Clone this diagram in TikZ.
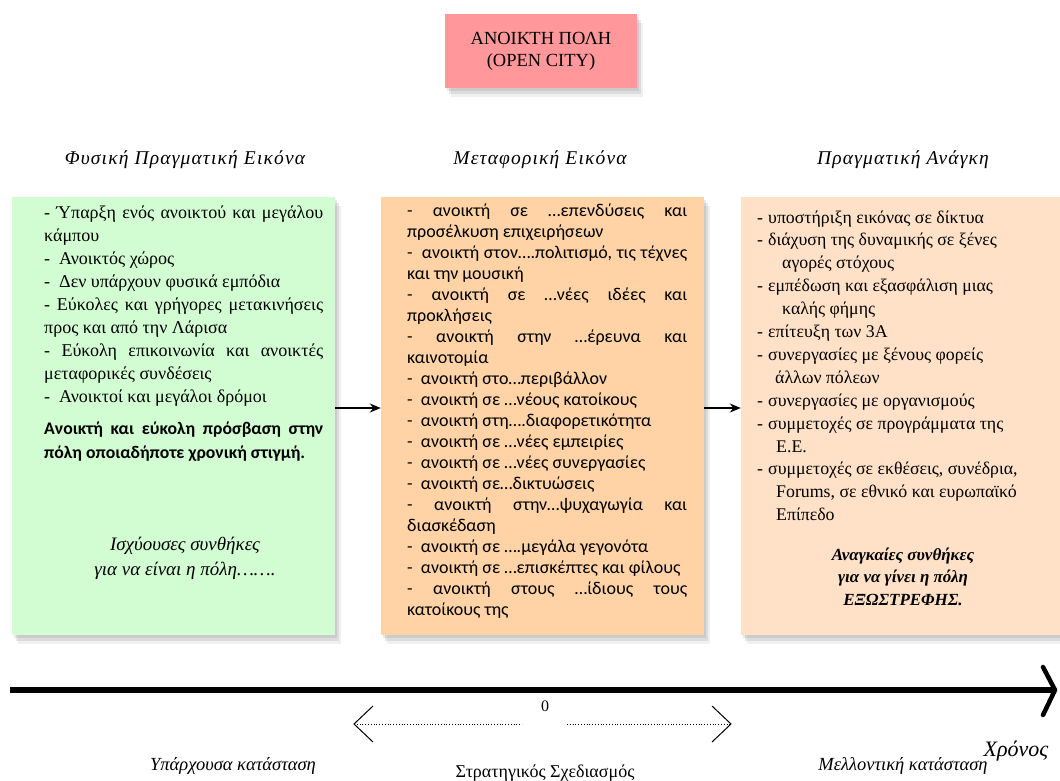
\documentclass[tikz,border=0pt]{standalone}
\usepackage{fontspec}
\setmainfont{Liberation Serif}
\newfontfamily\grsans{Carlito}
\usetikzlibrary{shadows,arrows.meta,calc}
\definecolor{boxgreen}{HTML}{D2FDD2}
\definecolor{boxorange}{HTML}{FFD3A5}
\definecolor{boxpeach}{HTML}{FFE1C8}
\definecolor{boxpink}{HTML}{FF979B}
\newcommand\dl[1]{\makebox[11pt][l]{-}#1\par}
\newcommand\cl[2]{\hspace*{#1pt}#2\par}
\begin{document}
\begin{tikzpicture}[x=1pt,y=-1pt,
  softshadow/.style={
    drop shadow={shadow xshift=2pt, shadow yshift=-3pt, opacity=0.18},
    drop shadow={shadow xshift=4pt, shadow yshift=-6pt, opacity=0.18},
    drop shadow={shadow xshift=6pt, shadow yshift=-9pt, opacity=0.12}},
  panel/.style={draw=none, inner sep=0pt, minimum height=438pt, softshadow},
  txt/.style={anchor=base, inner sep=0pt},
  head/.style={anchor=base, inner sep=0pt,
    font=\fontsize{19.5}{22}\selectfont\itshape\addfontfeature{LetterSpace=6}},
  link/.style={line width=1.8pt, -{Stealth[length=11pt,width=9pt]}},
  chev/.style={line width=1pt, line join=miter}
]
\useasboundingbox (0,0) rectangle (1060,780);
\hyphenpenalty=10000 \tolerance=10000

% title
\node[fill=boxpink, minimum width=192pt, minimum height=74pt, inner sep=0pt,
  softshadow, align=center, font=\fontsize{18.5}{22}\selectfont] (title) at (541,51)
  {ΑΝΟΙΚΤΗ ΠΟΛΗ\\(OPEN CITY)};

% headers
\node[head] (h1) at (185,164) {Φυσική Πραγματική Εικόνα};
\node[head] (h2) at (540,164) {Μεταφορική Εικόνα};
\node[head] (h3) at (903,164) {Πραγματική Ανάγκη};

% panels
\node[panel, fill=boxgreen, minimum width=323pt] (g) at (173.5,416) {};
\node[panel, fill=boxorange, minimum width=323pt] (m) at (542.5,416) {};
\node[panel, fill=boxpeach, minimum width=329pt] (r) at (905.5,416) {};

% left text
\node[anchor=base west, inner sep=0pt] (gt) at (44,218) {\parbox[t]{279pt}{%
\fontsize{18}{23.1}\selectfont\setlength\parindent{0pt}\setlength\parfillskip{0pt plus 1fil}%
- Ύπαρξη ενός ανοικτού και μεγάλου\linebreak κάμπου\par
-\ \ Ανοικτός χώρος\par
-\ \ Δεν υπάρχουν φυσικά εμπόδια\par
- Εύκολες και γρήγορες μετακινήσεις\linebreak προς και από την Λάρισα\par
- Εύκολη επικοινωνία και ανοικτές\linebreak μεταφορικές συνδέσεις\par
-\ \ Ανοικτοί και μεγάλοι δρόμοι\par
\vspace{9pt}
{\grsans\bfseries\fontsize{17.7}{23.1}\selectfont Ανοικτή και εύκολη πρόσβαση στην\linebreak πόλη οποιαδήποτε χρονική στιγμή.\par}}};
\node[txt] (gi) at (185,550) {\parbox[t]{270pt}{\centering\fontsize{19}{25}\selectfont\itshape
Ισχύουσες συνθήκες\\για να είναι η πόλη…….}};

% middle text
\node[anchor=base west, inner sep=0pt] (mt) at (407,216) {\parbox[t]{280pt}{%
\grsans\fontsize{18}{21.05}\selectfont\setlength\parindent{0pt}\setlength\parfillskip{0pt plus 1fil}%
- ανοικτή σε …επενδύσεις και\linebreak προσέλκυση επιχειρήσεων\par
-\ \ ανοικτή στον….πολιτισμό, τις τέχνες\linebreak και την μουσική\par
- ανοικτή σε …νέες ιδέες και\linebreak προκλήσεις\par
- ανοικτή στην …έρευνα και\linebreak καινοτομία\par
-\ \ ανοικτή στο…περιβάλλον\par
-\ \ ανοικτή σε …νέους κατοίκους\par
-\ \ ανοικτή στη….διαφορετικότητα\par
-\ \ ανοικτή σε …νέες εμπειρίες\par
-\ \ ανοικτή σε …νέες συνεργασίες\par
-\ \ ανοικτή σε…δικτυώσεις\par
- ανοικτή στην…ψυχαγωγία και\linebreak διασκέδαση\par
-\ \ ανοικτή σε ….μεγάλα γεγονότα\par
-\ \ ανοικτή σε …επισκέπτες και φίλους\par
- ανοικτή στους …ίδιους τους\linebreak κατοίκους της\par}};

% right text
\node[anchor=base west, inner sep=0pt] (rt) at (757,223) {\parbox[t]{300pt}{%
\fontsize{17.8}{22.9}\selectfont\setlength\parindent{0pt}\raggedright
\dl{υποστήριξη εικόνας σε δίκτυα}
\dl{διάχυση της δυναμικής σε ξένες}
\cl{25}{αγορές στόχους}
\dl{εμπέδωση και εξασφάλιση μιας}
\cl{25}{καλής φήμης}
\dl{επίτευξη των 3Α}
\dl{συνεργασίες με ξένους φορείς}
\cl{18}{άλλων πόλεων}
\dl{συνεργασίες με οργανισμούς}
\dl{συμμετοχές σε προγράμματα της}
\cl{19}{Ε.Ε.}
\dl{συμμετοχές σε εκθέσεις, συνέδρια,}
\cl{19}{Forums, σε εθνικό και ευρωπαϊκό}
\cl{19}{Επίπεδο}}};
\node[txt] (ri) at (903,560) {\parbox[t]{260pt}{\centering\fontsize{17}{22.5}\selectfont\bfseries\itshape
Αναγκαίες συνθήκες\\για να γίνει η πόλη\\ΕΞΩΣΤΡΕΦΗΣ.}};

% links between panels
\draw[link] ($(g.east)+(0,-8)$) -- ($(m.west)+(0,-8)$);
\draw[link] ($(m.east)+(0,-8)$) -- ($(r.west)+(0,-8)$);

% timeline
\coordinate (t0) at (10,690);
\coordinate (t1) at (1055,690);
\coordinate (ta) at (1043,667);
\coordinate (tb) at (1043,715);
\draw[line width=6.5pt] (t0) -- (t1);
\draw[line width=4.5pt, line cap=round, line join=round] (ta) -- (t1) -- (tb);
\node[txt, font=\fontsize{16}{18}\selectfont] (zero) at (545,711) {0};
\node[txt, font=\fontsize{22}{24}\selectfont\itshape] (chronos) at (1016,756) {Χρόνος};

% planning range
\coordinate (l0) at (354,724);
\coordinate (l1) at (522,724);
\coordinate (la) at (373,706);
\coordinate (lb) at (373,742);
\coordinate (r0) at (567,724);
\coordinate (r1) at (731,724);
\coordinate (ra) at (712,706);
\coordinate (rb) at (712,742);
\draw[dotted, line width=0.8pt] (l0) -- (l1);
\draw[dotted, line width=0.8pt] (r0) -- (r1);
\draw[chev] (la) -- (l0) -- (lb);
\draw[chev] (ra) -- (r1) -- (rb);

% state labels
\node[txt, font=\fontsize{18.5}{20}\selectfont\itshape] (s1) at (233,770) {Υπάρχουσα κατάσταση};
\node[txt, font=\fontsize{18}{20}\selectfont] (s2) at (545,777) {Στρατηγικός Σχεδιασμός};
\node[txt, font=\fontsize{18.5}{20}\selectfont\itshape] (s3) at (903,770) {Μελλοντική κατάσταση};
\end{tikzpicture}
\end{document}
